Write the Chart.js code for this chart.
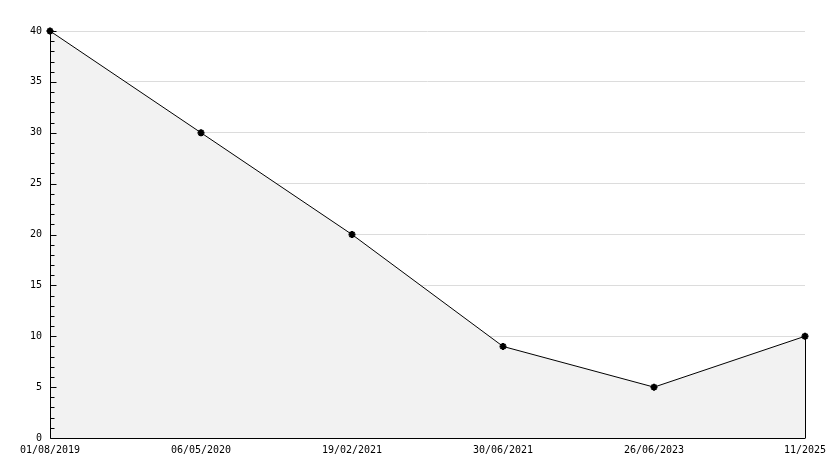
<!DOCTYPE html>
<html>
<head>
<meta charset="utf-8">
<script src="https://cdn.jsdelivr.net/npm/chart.js@4/dist/chart.umd.min.js"></script>
<style>
html,body{margin:0;padding:0;background:#fff;}
#wrap{width:834px;height:468px;position:relative;}
</style>
</head>
<body>
<div id="wrap"><canvas id="c" width="834" height="468"></canvas></div>
<script>
const categories = ["01/08/2019", "06/05/2020", "19/02/2021", "30/06/2021", "26/06/2023", "11/2025"];
const values = [40, 30, 20, 9, 5, 10];
const yMin = 0, yMax = 40, majorStep = 5, minorStep = 1;

const axisPlugin = {
  id: 'axisPlugin',
  afterDatasetsDraw(chart) {
    const ctx = chart.ctx;
    const x = chart.scales.x, y = chart.scales.y;
    const area = chart.chartArea;
    ctx.save();
    ctx.strokeStyle = '#000';
    ctx.lineWidth = 1;
    // right-end vertical line of filled area
    const lastX = Math.round(x.getPixelForValue(values.length - 1)) + 0.5;
    ctx.beginPath();
    ctx.moveTo(lastX, y.getPixelForValue(values[values.length - 1]));
    ctx.lineTo(lastX, y.getPixelForValue(0));
    ctx.stroke();
    // axes
    const left = Math.round(area.left) + 0.5;
    const bottom = Math.round(y.getPixelForValue(0)) + 0.5;
    ctx.beginPath();
    ctx.moveTo(left, Math.round(y.getPixelForValue(yMax)));
    ctx.lineTo(left, bottom);
    ctx.lineTo(lastX, bottom);
    ctx.stroke();
    // ticks (inside)
    for (let v = yMin; v <= yMax; v += minorStep) {
      const py = Math.round(y.getPixelForValue(v)) + 0.5;
      const len = (v % majorStep === 0) ? 6 : 4;
      ctx.beginPath();
      ctx.moveTo(left, py);
      ctx.lineTo(left + len, py);
      ctx.stroke();
    }
    ctx.restore();
  }
};

new Chart(document.getElementById('c'), {
  type: 'line',
  data: {
    labels: categories,
    datasets: [{
      data: values,
      borderColor: '#000',
      borderWidth: 1,
      backgroundColor: '#f2f2f2',
      fill: 'origin',
      tension: 0,
      pointStyle: 'star',
      pointRadius: 3.5,
      pointBorderWidth: 2,
      pointBorderColor: '#000',
      pointBackgroundColor: '#000',
      clip: false
    }]
  },
  options: {
    responsive: false,
    animation: false,
    events: [],
    layout: { padding: { left: 0, right: 29, top: 31, bottom: 0 } },
    plugins: { legend: { display: false }, tooltip: { enabled: false } },
    scales: {
      x: {
        type: 'category',
        offset: false,
        grid: { display: false, drawTicks: false },
        border: { display: false },
        ticks: {
          color: '#000',
          font: { family: 'DejaVu Sans Mono', size: 10 },
          maxRotation: 0,
          autoSkip: false,
          padding: 6
        },
        afterFit(s) { s.height = 30; }
      },
      y: {
        min: yMin,
        max: yMax,
        grid: {
          drawTicks: false,
          color(c) { return (c.tick && c.tick.value % majorStep === 0 && c.tick.value !== 0) ? '#dcdcdc' : 'rgba(0,0,0,0)'; }
        },
        border: { display: false },
        ticks: {
          stepSize: minorStep,
          autoSkip: false,
          color: '#000',
          font: { family: 'DejaVu Sans Mono', size: 10 },
          padding: 8,
          callback(v) { return v % majorStep === 0 ? String(v) : ''; }
        },
        afterFit(s) { s.width = 50; }
      }
    }
  },
  plugins: [axisPlugin]
});
</script>
</body>
</html>
